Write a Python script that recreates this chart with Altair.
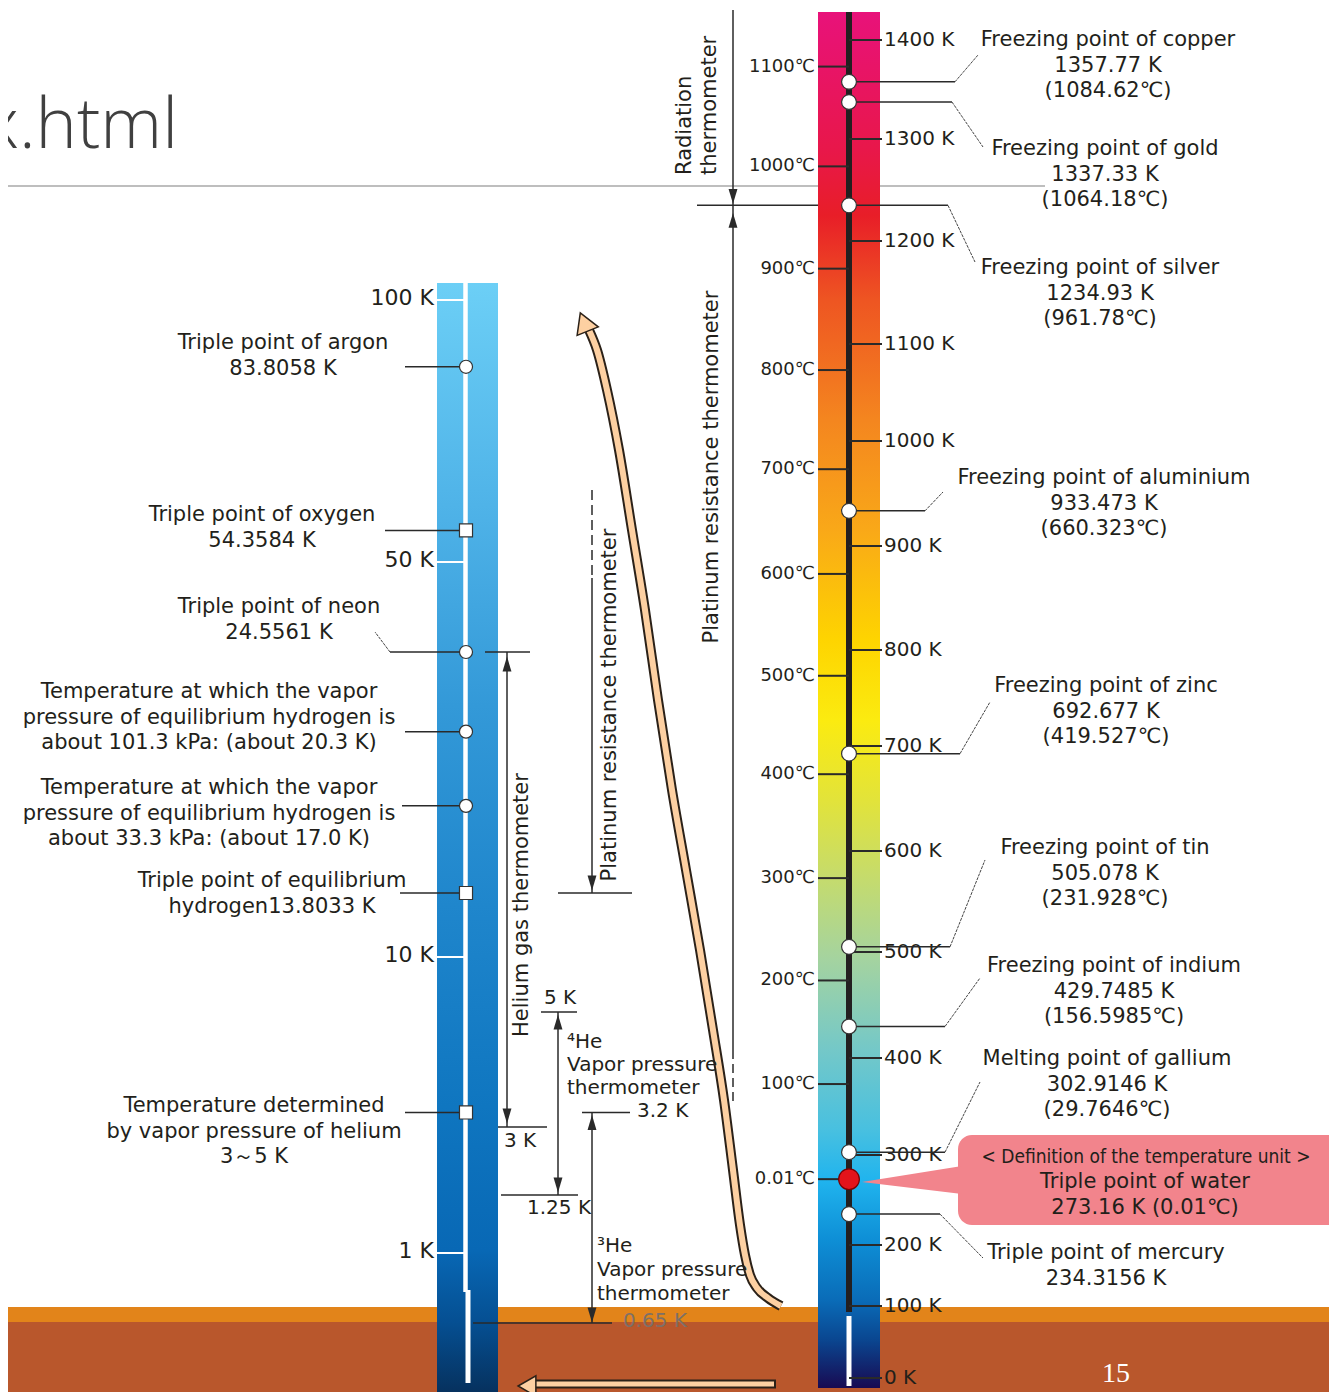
import altair as alt
import pandas as pd

# ======================= DATA =======================
K_TICKS = [1400, 1300, 1200, 1100, 1000, 900, 800, 700, 600, 500, 400, 300, 200, 100, 0]
K_TICK_LABELS = ["1400 K", "1300 K", "1200 K", "1100 K", "1000 K", "900 K", "800 K",
                 "700 K", "600 K", "500 K", "400 K", "300 K", "200 K", "100 K", "0 K"]
C_TICKS = [1100, 1000, 900, 800, 700, 600, 500, 400, 300, 200, 100, 0.01]
C_TICK_LABELS = ["1100℃", "1000℃", "900℃", "800℃", "700℃", "600℃", "500℃",
                 "400℃", "300℃", "200℃", "100℃", "0.01℃"]

HIGH_NAMES = ["Freezing point of copper", "Freezing point of gold", "Freezing point of silver",
              "Freezing point of aluminium", "Freezing point of zinc", "Freezing point of tin",
              "Freezing point of indium", "Melting point of gallium", "Triple point of mercury"]
HIGH_K = [1357.77, 1337.33, 1234.93, 933.473, 692.677, 505.078, 429.7485, 302.9146, 234.3156]
HIGH_K_TEXT = ["1357.77 K", "1337.33 K", "1234.93 K", "933.473 K", "692.677 K", "505.078 K",
               "429.7485 K", "302.9146 K", "234.3156 K"]
HIGH_C_TEXT = ["(1084.62℃)", "(1064.18℃)", "(961.78℃)", "(660.323℃)", "(419.527℃)",
               "(231.928℃)", "(156.5985℃)", "(29.7646℃)", ""]

WATER_K = 273.16
WATER_TEXT = ["< Definition of the temperature unit >", "Triple point of water", "273.16 K (0.01℃)"]

LOW_TICKS = [100, 50, 10, 1]
LOW_TICK_LABELS = ["100 K", "50 K", "10 K", "1 K"]
LOW_K = [83.8058, 54.3584, 24.5561, 20.3, 17.0, 13.8033, 3.2]
LOW_SHAPES = ["circle", "square", "circle", "circle", "circle", "square", "square"]
LOW_TEXT = [
    ["Triple point of argon", "83.8058 K"],
    ["Triple point of oxygen", "54.3584 K"],
    ["Triple point of neon", "24.5561 K"],
    ["Temperature at which the vapor", "pressure of equilibrium hydrogen is", "about 101.3 kPa: (about 20.3 K)"],
    ["Temperature at which the vapor", "pressure of equilibrium hydrogen is", "about 33.3 kPa: (about 17.0 K)"],
    ["Triple point of equilibrium", "hydrogen13.8033 K"],
    ["Temperature determined", "by vapor pressure of helium", "3～5 K"],
]

BOUNDARY_K = 1234.93          # radiation / platinum boundary (silver)
HE_GAS = [24.5561, 3]         # helium gas thermometer range
PRT_LOW = 13.8033             # lower end of platinum resistance thermometer
HE4 = [5, 1.25]
HE3 = [3.2, 0.65]
BRACKET_LABELS = ["5 K", "3 K", "1.25 K", "3.2 K", "0.65 K"]
BRACKET_VALUES = [5, 3, 1.25, 3.2, 0.65]

# ======================= LAYOUT / STYLE =======================
OFF = 8
W, H = 1321, 1384
FONT = "DejaVu Sans"
TXT = "#231f1a"
INK = "#2a2a2a"
PEACH = "#fdd0a2"
PINK = "#f2848c"


def P(v):
    return v - OFF


K_DOMAIN = [0, 100, 200, 300, 400, 500, 600, 700, 800, 900, 1000, 1100, 1200, 1300, 1400]
K_RANGE = [P(v) for v in [1378, 1306, 1245, 1155, 1058, 952, 851, 746, 650, 546, 441, 344, 241, 139, 40]]
L_DOMAIN = [0.65, 1, 1.25, 3, 5, 10, 13.8033, 24.5561, 50, 100]
L_RANGE = [P(v) for v in [1323, 1253, 1195, 1127, 1012, 957, 893, 652, 562, 300]]


def ks():
    return alt.Scale(domain=K_DOMAIN, range=K_RANGE, nice=False, zero=False)


def ls():
    return alt.Scale(type="log", domain=L_DOMAIN, range=L_RANGE, nice=False)


def xs():
    return alt.Scale(domain=[0, W], range=[0, W], nice=False, zero=False)


def ys():
    return alt.Scale(domain=[0, H], range=[0, H], nice=False, zero=False)


base = alt.Chart(pd.DataFrame({"_": [0]}))
layers = []


def box(x1, x2, y1, y2, **kw):
    layers.append(base.mark_rect(**kw).encode(
        x=alt.value(P(x1)), x2=alt.value(P(x2)), y=alt.value(P(y1)), y2=alt.value(P(y2))))


def seg(x1, y1, x2, y2, color=INK, width=1.5, dash=None):
    kw = dict(color=color, strokeWidth=width)
    if dash:
        kw["strokeDash"] = dash
    layers.append(base.mark_rule(**kw).encode(
        x=alt.value(P(x1)), x2=alt.value(P(x2)), y=alt.value(P(y1)), y2=alt.value(P(y2))))


def label(x, y, lines, size=21, align="center", angle=None, color=TXT, font=FONT, lh=25.5, **kw):
    t = lines if isinstance(lines, str) else list(lines)
    props = dict(align=align, baseline="middle", fontSize=size, font=font, color=color, lineHeight=lh, **kw)
    if angle is not None:
        props["angle"] = angle
    layers.append(base.mark_text(**props).encode(
        x=alt.value(P(x)), y=alt.value(P(y)), text=alt.value(t)))


def grad(stops):
    return alt.LinearGradient(gradient="linear",
                              stops=[alt.GradientStop(offset=o, color=c) for o, c in stops],
                              x1=0, x2=0, y1=0, y2=1)


UP = "M0,-1L0.6,1L-0.6,1Z"
DOWN = "M0,1L0.6,-1L-0.6,-1Z"


def vbracket(scale_fn, x, top_val, bot_val, up=True, down=True, up_off=10, down_off=-10):
    d = alt.Chart(pd.DataFrame({"a": [top_val], "b": [bot_val]}))
    layers.append(d.mark_rule(color=INK, strokeWidth=1.5).encode(
        x=alt.value(P(x)), y=alt.Y("a:Q", scale=scale_fn(), axis=None), y2="b:Q"))
    if up:
        layers.append(d.mark_point(shape=UP, filled=True, color=INK, size=220, opacity=1, yOffset=up_off).encode(
            x=alt.value(P(x)), y=alt.Y("a:Q", scale=scale_fn(), axis=None)))
    if down:
        layers.append(d.mark_point(shape=DOWN, filled=True, color=INK, size=220, opacity=1, yOffset=down_off).encode(
            x=alt.value(P(x)), y=alt.Y("b:Q", scale=scale_fn(), axis=None)))


def hline(scale_fn, val, x1, x2, color=INK, width=1.5):
    d = alt.Chart(pd.DataFrame({"v": [val]}))
    layers.append(d.mark_rule(color=color, strokeWidth=width).encode(
        y=alt.Y("v:Q", scale=scale_fn(), axis=None), x=alt.value(P(x1)), x2=alt.value(P(x2))))


# ---------------- slide background ----------------
label(178, 127, "x.html", size=70, align="right", color="#404040", font="Open Sans", fontWeight=300)
seg(0, 186, 1045, 186, color="#a8a8a8", width=1.5)
box(0, 1345, 1307, 1322, color="#e2841a")
box(0, 1345, 1322, 1400, color="#b9572c")
label(1116, 1374, "15", size=28, color="white", font="Liberation Serif")

# ---------------- big connecting arrow ----------------
ARROW_PATH = [(781, 1306), (768, 1298), (757, 1288), (750, 1275), (745, 1255), (740, 1225), (733, 1170),
              (724, 1100), (713, 1030), (700, 950), (686, 870), (672, 790), (658, 700), (645, 610),
              (632, 530), (619, 450), (607, 390), (597, 350), (589, 330)]
arr = pd.DataFrame({"x": [P(a) for a, _ in ARROW_PATH], "y": [P(b) for _, b in ARROW_PATH],
                    "o": list(range(len(ARROW_PATH)))})
for col, wdt in [("#2b2118", 10), (PEACH, 6)]:
    layers.append(alt.Chart(arr).mark_line(color=col, strokeWidth=wdt, strokeCap="butt", interpolate="monotone").encode(
        x=alt.X("x:Q", scale=xs(), axis=None), y=alt.Y("y:Q", scale=ys(), axis=None), order="o:Q"))
layers.append(base.mark_point(shape="triangle-up", filled=True, fill=PEACH, stroke="#2b2118", strokeWidth=1.5,
                              size=520, opacity=1, angle=338).encode(x=alt.value(P(584)), y=alt.value(P(322))))

# bottom arrow
seg(535, 1384, 776, 1384, color="#2b2118", width=9)
seg(535, 1384, 774, 1384, color=PEACH, width=5)
layers.append(base.mark_point(shape="triangle-left", filled=True, fill=PEACH, stroke="#2b2118", strokeWidth=1.5,
                              size=420, opacity=1).encode(x=alt.value(P(527)), y=alt.value(P(1386))))

# ---------------- left (low temperature) thermometer ----------------
box(437, 498, 283, 1395, color=grad([(0, "#6ccff6"), (0.2, "#4fb3e8"), (0.38, "#3399d8"), (0.56, "#1f86cc"),
                                     (0.74, "#0f76c0"), (0.87, "#0868b5"), (0.935, "#054f92"), (1, "#06305c")]))
seg(465.5, 283, 465.5, 1292, color="white", width=4.5)
seg(468, 1290, 468, 1383, color="white", width=5)
lt = pd.DataFrame({"K": LOW_TICKS, "label": LOW_TICK_LABELS})
layers.append(alt.Chart(lt).mark_rule(color="white", strokeWidth=2).encode(
    y=alt.Y("K:Q", scale=ls(), axis=None), x=alt.value(P(437)), x2=alt.value(P(464))))
layers.append(alt.Chart(lt).mark_text(align="right", baseline="middle", fontSize=22, font=FONT, color=TXT, dy=-2).encode(
    y=alt.Y("K:Q", scale=ls(), axis=None), x=alt.value(P(434)), text="label:N"))

# ---------------- right (high temperature) thermometer ----------------
box(818, 880, 12, 1388, color=grad([
    (0, "#e8127a"), (0.10, "#e8174a"), (0.148, "#e81e28"), (0.209, "#ee5522"), (0.297, "#f4861f"),
    (0.376, "#f9a818"), (0.456, "#fed400"), (0.515, "#fbeb10"), (0.573, "#e2e33a"), (0.631, "#c4db6e"),
    (0.689, "#a4d3a0"), (0.754, "#74c8c8"), (0.8125, "#48c0e0"), (0.849, "#20b4ee"), (0.892, "#0e8fd6"),
    (0.936, "#0a6cb8"), (0.965, "#0a4690"), (1, "#180a52")]))
seg(849, 12, 849, 1312, color="#231f20", width=6)
seg(849, 1316, 849, 1386, color="white", width=5)

kt = pd.DataFrame({"K": K_TICKS, "label": K_TICK_LABELS})
layers.append(alt.Chart(kt).mark_rule(color=INK, strokeWidth=2).encode(
    y=alt.Y("K:Q", scale=ks(), axis=None), x=alt.value(P(849)), x2=alt.value(P(882))))
layers.append(alt.Chart(kt).mark_text(align="left", baseline="middle", fontSize=20, font=FONT, color=TXT).encode(
    y=alt.Y("K:Q", scale=ks(), axis=None), x=alt.value(P(884)), text="label:N"))
ct = pd.DataFrame({"C": C_TICKS, "label": C_TICK_LABELS})
layers.append(alt.Chart(ct).transform_calculate(K="datum.C + 273.15").mark_rule(color=INK, strokeWidth=2).encode(
    y=alt.Y("K:Q", scale=ks(), axis=None), x=alt.value(P(818)), x2=alt.value(P(849))))
layers.append(alt.Chart(ct).transform_calculate(K="datum.C + 273.15").mark_text(
    align="right", baseline="middle", fontSize=18, font=FONT, color=TXT).encode(
    y=alt.Y("K:Q", scale=ks(), axis=None), x=alt.value(P(815)), text="label:N"))

# ---------------- method brackets (right) ----------------
vb = alt.Chart(pd.DataFrame({"b": [BOUNDARY_K]}))
layers.append(vb.mark_rule(color=INK, strokeWidth=1.5).encode(
    x=alt.value(P(733)), y=alt.Y("b:Q", scale=ks(), axis=None), y2=alt.value(P(10))))
layers.append(vb.mark_rule(color=INK, strokeWidth=1.5).encode(
    x=alt.value(P(733)), y=alt.Y("b:Q", scale=ks(), axis=None), y2=alt.value(P(1050))))
seg(733, 1050, 733, 1102, width=1.5, dash=[9, 5])
layers.append(vb.mark_point(shape=DOWN, filled=True, color=INK, size=220, opacity=1, yOffset=-9).encode(
    x=alt.value(P(733)), y=alt.Y("b:Q", scale=ks(), axis=None)))
layers.append(vb.mark_point(shape=UP, filled=True, color=INK, size=220, opacity=1, yOffset=15).encode(
    x=alt.value(P(733)), y=alt.Y("b:Q", scale=ks(), axis=None)))
hline(ks, BOUNDARY_K, 697, 818)
label(685, 175, "Radiation", size=21, align="left", angle=270)
label(710, 175, "thermometer", size=21, align="left", angle=270)
label(712, 467, "Platinum resistance thermometer", size=21, angle=270)

# ---------------- method brackets (left) ----------------
vbracket(ls, 507, HE_GAS[0], HE_GAS[1], up_off=12, down_off=-11)
hline(ls, HE_GAS[0], 485, 530)
hline(ls, HE_GAS[1], 498, 547)
label(522, 905, "Helium gas thermometer", size=21, angle=270)

pl = alt.Chart(pd.DataFrame({"b": [PRT_LOW]}))
layers.append(pl.mark_rule(color=INK, strokeWidth=1.5).encode(
    x=alt.value(P(592)), y=alt.Y("b:Q", scale=ls(), axis=None), y2=alt.value(P(578))))
seg(592, 490, 592, 578, width=1.5, dash=[10, 5])
layers.append(pl.mark_point(shape=DOWN, filled=True, color=INK, size=220, opacity=1, yOffset=-10).encode(
    x=alt.value(P(592)), y=alt.Y("b:Q", scale=ls(), axis=None)))
hline(ls, PRT_LOW, 558, 632)
label(610, 705, "Platinum resistance thermometer", size=21, angle=270)

vbracket(ls, 558, HE4[0], HE4[1])
hline(ls, HE4[0], 541, 577)
hline(ls, HE4[1], 501, 578)
vbracket(ls, 592, HE3[0], HE3[1], down_off=-8)
hline(ls, HE3[0], 582, 630)
hline(ls, HE3[1], 473, 612)

BR_POS = [(560, "center", -14), (520, "center", 14), (559, "center", 13), (637, "left", -1), (623, "left", -2)]
for txt, val, (bx, bal, bdy) in zip(BRACKET_LABELS, BRACKET_VALUES, BR_POS):
    col = "#7d7068" if val == HE3[1] else TXT
    layers.append(alt.Chart(pd.DataFrame({"v": [val], "t": [txt]})).mark_text(
        align=bal, baseline="middle", fontSize=20, font=FONT, color=col, dy=bdy).encode(
        y=alt.Y("v:Q", scale=ls(), axis=None), x=alt.value(P(bx)), text="t:N"))

label(567, 1042, ["⁴He", "Vapor pressure", "thermometer"], size=20, align="left", lh=23)
label(597, 1246, ["³He", "Vapor pressure", "thermometer"], size=20, align="left", lh=24)

# ---------------- leaders (right) ----------------
LEAD_HIGH = [(955, 978, 55), (952, 983, 147), (948, 975, 262), (925, 943, 492), (960, 990, 702),
             (950, 985, 860), (945, 980, 978), (945, 980, 1082), (940, 983, 1258)]
for k, (ex, tx, ty) in zip(HIGH_K, LEAD_HIGH):
    d = alt.Chart(pd.DataFrame({"K": [k]}))
    layers.append(d.mark_rule(color=INK, strokeWidth=1.5).encode(
        y=alt.Y("K:Q", scale=ks(), axis=None), x=alt.value(P(849)), x2=alt.value(P(ex))))
    layers.append(d.mark_rule(color="#444", strokeWidth=1, strokeDash=[3, 1]).encode(
        y=alt.Y("K:Q", scale=ks(), axis=None), y2=alt.value(P(ty)), x=alt.value(P(ex)), x2=alt.value(P(tx))))

# ---------------- leaders (left) ----------------
LEAD_LOW = [405, 385, 390, 405, 402, 400, 405]
for k, lx in zip(LOW_K, LEAD_LOW):
    hline(ls, k, lx, 466)
nd = alt.Chart(pd.DataFrame({"K": [LOW_K[2]]}))
layers.append(nd.mark_rule(color="#444", strokeWidth=1, strokeDash=[3, 1]).encode(
    y=alt.Y("K:Q", scale=ls(), axis=None), y2=alt.value(P(632)), x=alt.value(P(390)), x2=alt.value(P(375))))

# ---------------- callout for water ----------------
box(958, 1345, 1135, 1225, color=PINK, cornerRadius=14)
ptr = pd.DataFrame({"x": [P(862), P(962)], "y": [P(1182), P(1166)], "y2": [P(1182), P(1194)]})
layers.append(alt.Chart(ptr).mark_area(color=PINK).encode(
    x=alt.X("x:Q", scale=xs(), axis=None), y=alt.Y("y:Q", scale=ys(), axis=None), y2="y2:Q"))

# ---------------- fixed points ----------------
hp = pd.DataFrame({"K": HIGH_K})
layers.append(alt.Chart(hp).mark_point(shape="circle", filled=True, fill="white", stroke="#333",
                                       strokeWidth=1.2, size=220, opacity=1).encode(
    y=alt.Y("K:Q", scale=ks(), axis=None), x=alt.value(P(849))))
wp = pd.DataFrame({"K": [WATER_K]})
layers.append(alt.Chart(wp).mark_point(shape="circle", filled=True, fill="#e3141b", stroke="#7a0000",
                                       strokeWidth=1.2, size=430, opacity=1).encode(
    y=alt.Y("K:Q", scale=ks(), axis=None), x=alt.value(P(849))))
lp = pd.DataFrame({"K": LOW_K, "shape": LOW_SHAPES})
layers.append(alt.Chart(lp).mark_point(filled=True, fill="white", stroke="#333", strokeWidth=1.2,
                                       size=170, opacity=1).encode(
    y=alt.Y("K:Q", scale=ls(), axis=None), x=alt.value(P(466)), shape=alt.Shape("shape:N", scale=None)))

# ---------------- labels ----------------
HIGH_LABEL_POS = [(1108, 40), (1105, 149), (1100, 268), (1104, 478), (1106, 686), (1105, 848),
                  (1114, 966), (1107, 1059), (1106, 1253)]
for name, kt_, ct_, (lx, ly) in zip(HIGH_NAMES, HIGH_K_TEXT, HIGH_C_TEXT, HIGH_LABEL_POS):
    lines = [name, kt_] + ([ct_] if ct_ else [])
    label(lx, ly, lines, size=21, lh=25.5)

label(1146, 1157, WATER_TEXT[0], size=19, font="DejaVu Sans Condensed, Liberation Sans Narrow, DejaVu Sans")
label(1145, 1182, WATER_TEXT[1:], size=21, lh=26)

LOW_LABEL_POS = [(283, 343), (262, 515), (279, 607), (209, 692), (209, 788), (272, 881), (254, 1106)]
for lines, (lx, ly) in zip(LOW_TEXT, LOW_LABEL_POS):
    label(lx, ly, lines, size=21, lh=25.5)

chart = alt.layer(*layers).resolve_scale(x="independent", y="independent", shape="independent").properties(
    width=W, height=H, padding=0, autosize=alt.AutoSizeParams(type="none")
).configure_view(strokeWidth=0)

chart.save("out.html", embed_options={"renderer": "svg", "actions": False})
